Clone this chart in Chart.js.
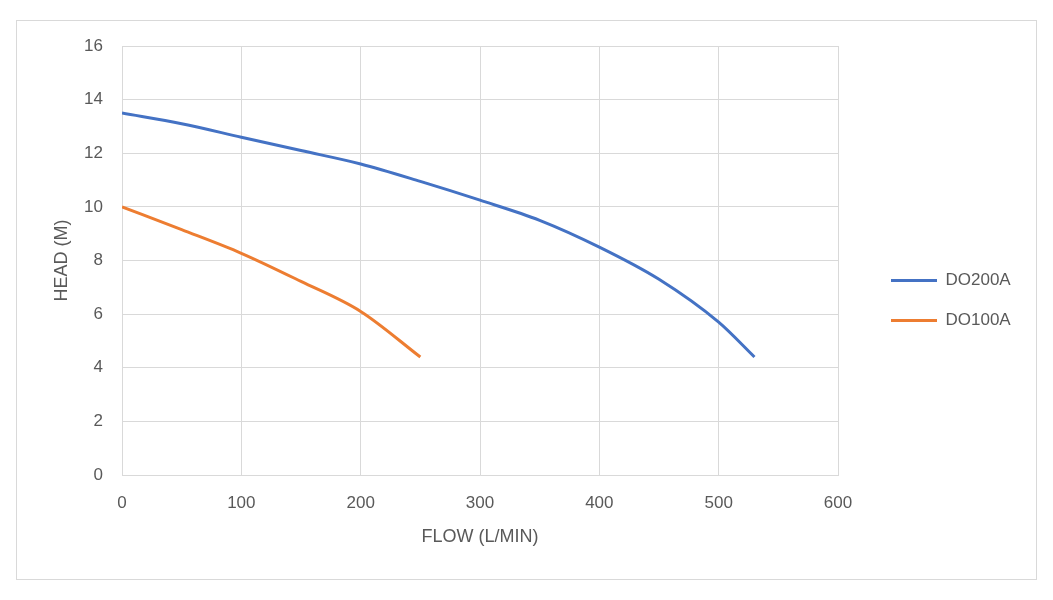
<!DOCTYPE html>
<html>
<head>
<meta charset="utf-8">
<script src="https://cdn.jsdelivr.net/npm/chart.js@4/dist/chart.umd.min.js"></script>
<style>
html,body{margin:0;padding:0;background:#fff;}
#wrap{position:relative;width:1053px;height:600px;}
#frame{position:absolute;left:16px;top:20px;width:1019px;height:558px;border:1px solid #d9d9d9;pointer-events:none;}
canvas{position:absolute;left:0;top:0;}
</style>
</head>
<body>
<div id="wrap">
<canvas id="c" width="1053" height="600"></canvas>
<div id="frame"></div>
</div>
<script>
// Data
const seriesNames = ['DO200A', 'DO100A'];
const do200aFlow = [0, 50, 100, 150, 200, 250, 300, 350, 400, 450, 500, 530];
const do200aHead = [13.5, 13.1, 12.6, 12.1, 11.6, 10.95, 10.25, 9.5, 8.5, 7.3, 5.7, 4.4];
const do100aFlow = [0, 50, 100, 150, 200, 250];
const do100aHead = [10, 9.15, 8.27, 7.22, 6.1, 4.4];
const xTicks = [0, 100, 200, 300, 400, 500, 600];
const yTicks = [0, 2, 4, 6, 8, 10, 12, 14, 16];
const xTitle = 'FLOW (L/MIN)';
const yTitle = 'HEAD (M)';

const toPts = (xs, ys) => xs.map((x, i) => ({x: x, y: ys[i]}));
const FONT = "'Liberation Sans', Arial, sans-serif";
const TXT = '#595959';
const GRID = '#d9d9d9';

const legendShift = {
  id: 'legendShift',
  beforeLayout(chart) {
    const lg = chart.legend;
    if (lg && !lg._patched) {
      const f = lg.fit;
      lg.fit = function () { f.call(this); this.width = 198; };
      lg._patched = true;
    }
  },
  afterLayout(chart) {
    const lg = chart.legend;
    if (lg) {
      const dx = 30, dy = -12;
      lg.left += dx; lg.right += dx;
      lg.top += dy; lg.bottom += dy;
    }
  }
};

new Chart(document.getElementById('c'), {
  type: 'scatter',
  data: {
    datasets: [
      {
        label: seriesNames[0],
        data: toPts(do200aFlow, do200aHead),
        showLine: true,
        borderColor: '#4472C4',
        backgroundColor: '#4472C4',
        borderWidth: 3,
        pointRadius: 0,
        cubicInterpolationMode: 'monotone'
      },
      {
        label: seriesNames[1],
        data: toPts(do100aFlow, do100aHead),
        showLine: true,
        borderColor: '#ED7D31',
        backgroundColor: '#ED7D31',
        borderWidth: 3,
        pointRadius: 0,
        cubicInterpolationMode: 'monotone'
      }
    ]
  },
  options: {
    responsive: false,
    animation: false,
    layout: { padding: { left: 16, top: 46, right: 17, bottom: 21 } },
    plugins: {
      tooltip: { enabled: false },
      legend: {
        position: 'right',
        align: 'center',
        labels: {
          usePointStyle: true,
          pointStyle: 'line',
          pointStyleWidth: 46,
          padding: 23,
          color: TXT,
          font: { family: FONT, size: 17 }
        }
      }
    },
    scales: {
      x: {
        type: 'linear',
        min: 0, max: 600,
        afterBuildTicks: s => { s.ticks = xTicks.map(v => ({value: v})); },
        afterFit: s => { s.height = 104; },
        grid: { color: GRID, lineWidth: 1, drawTicks: false },
        border: { color: GRID, width: 1 },
        ticks: { color: TXT, font: { family: FONT, size: 17 }, padding: 18, maxRotation: 0 },
        title: { display: true, text: xTitle, color: TXT, font: { family: FONT, size: 18 }, padding: { top: 0, bottom: 31 } }
      },
      y: {
        type: 'linear',
        min: 0, max: 16,
        afterBuildTicks: s => { s.ticks = yTicks.map(v => ({value: v})); },
        afterFit: s => { s.width = 106; },
        grid: { color: GRID, lineWidth: 1, drawTicks: false },
        border: { color: GRID, width: 1 },
        ticks: { color: TXT, font: { family: FONT, size: 17 }, padding: 19 },
        title: { display: true, text: yTitle, color: TXT, font: { family: FONT, size: 18 }, padding: { top: 35, bottom: 0 } }
      }
    }
  },
  plugins: [legendShift]
});
</script>
</body>
</html>
